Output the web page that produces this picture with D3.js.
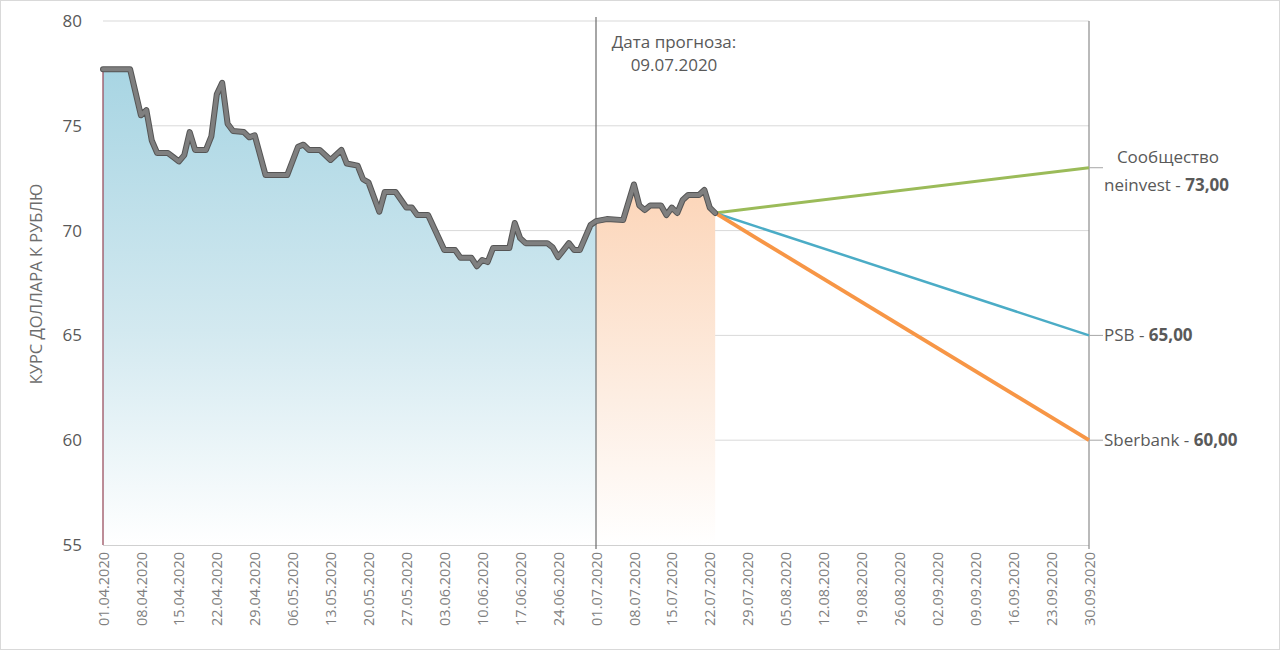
<!DOCTYPE html>
<html><head><meta charset="utf-8">
<script src="https://cdn.jsdelivr.net/npm/d3@7"></script>
<style>
html,body{margin:0;padding:0;background:#fff;}
svg text{font-family:"Open Sans","Noto Sans",sans-serif;}
</style></head>
<body>
<svg id="chart" width="1280" height="650"></svg>
<script>
// ---- data ----
const dates = ["01.04.2020","06.04.2020","07.04.2020","08.04.2020","09.04.2020","10.04.2020","11.04.2020","13.04.2020","14.04.2020","15.04.2020","16.04.2020","17.04.2020","18.04.2020","20.04.2020","21.04.2020","22.04.2020","23.04.2020","24.04.2020","25.04.2020","27.04.2020","28.04.2020","29.04.2020","01.05.2020","05.05.2020","07.05.2020","08.05.2020","09.05.2020","11.05.2020","13.05.2020","15.05.2020","16.05.2020","18.05.2020","19.05.2020","20.05.2020","22.05.2020","23.05.2020","25.05.2020","27.05.2020","28.05.2020","29.05.2020","31.05.2020","03.06.2020","05.06.2020","06.06.2020","08.06.2020","09.06.2020","10.06.2020","11.06.2020","12.06.2020","15.06.2020","16.06.2020","17.06.2020","18.06.2020","22.06.2020","23.06.2020","24.06.2020","26.06.2020","27.06.2020","28.06.2020","30.06.2020","01.07.2020","03.07.2020","06.07.2020","08.07.2020","09.07.2020","10.07.2020","11.07.2020","13.07.2020","14.07.2020","15.07.2020","16.07.2020","17.07.2020","18.07.2020","20.07.2020","21.07.2020","22.07.2020","23.07.2020"];
const rates = [77.7,77.7,76.6,75.5,75.75,74.3,73.7,73.7,73.5,73.3,73.6,74.7,73.85,73.85,74.5,76.5,77.05,75.1,74.75,74.7,74.45,74.55,72.65,72.65,74.0,74.1,73.85,73.85,73.37,73.85,73.2,73.1,72.45,72.3,70.9,71.84,71.84,71.1,71.1,70.74,70.74,69.07,69.07,68.7,68.7,68.3,68.6,68.5,69.17,69.17,70.36,69.64,69.4,69.4,69.2,68.74,69.4,69.07,69.07,70.27,70.45,70.55,70.5,72.2,71.2,70.98,71.2,71.2,70.74,71.1,70.84,71.46,71.7,71.7,71.94,71.1,70.84];
const splitDate = "01.07.2020";          // boundary between history and current month
const forecastMadeLabel = ["Дата прогноза:", "09.07.2020"];
const forecastEndDate = "30.09.2020";
const forecastNames = ["Сообщество neinvest", "PSB", "Sberbank"];
const forecastValues = [73.00, 65.00, 60.00];
const forecastColors = ["#9bbb59", "#4bacc6", "#f79646"];
const yTicks = [55, 60, 65, 70, 75, 80];
const xTickStart = "01.04.2020";
const yTitle = "КУРС ДОЛЛАРА К РУБЛЮ";

// ---- setup ----
const parse = d3.utcParse("%d.%m.%Y");
const fmt = d3.utcFormat("%d.%m.%Y");
const data = dates.map((d,i)=>({date:parse(d), v:rates[i]}));
const svg = d3.select("#chart");
const L=103, R=1089, T=21, B=545;
const x = d3.scaleUtc().domain([parse(xTickStart), parse(forecastEndDate)]).range([L,R]);
const y = d3.scaleLinear().domain([55,80]).range([B,T]);
const weekly = d3.utcDay.every(1).range(parse(xTickStart), d3.utcDay.offset(parse(forecastEndDate),1))
  .filter((d,i)=>i%7===0);

// border
svg.append("rect").attr("x",0.5).attr("y",0.5).attr("width",1279).attr("height",649)
  .attr("fill","#fff").attr("stroke","#d9d9d9");

// gradients
const defs = svg.append("defs");
const split = parse(splitDate);
const hist = data.filter(d=>d.date<=split);
const cur = data.filter(d=>d.date>=split);
const g1 = defs.append("linearGradient").attr("id","gBlue").attr("gradientUnits","userSpaceOnUse")
  .attr("x1",0).attr("x2",0).attr("y1",y(d3.max(rates))).attr("y2",B);
g1.append("stop").attr("offset",0).attr("stop-color","#a8d5e3");
g1.append("stop").attr("offset",0.55).attr("stop-color","#d3e9f0");
g1.append("stop").attr("offset",1).attr("stop-color","#ffffff");
const g2 = defs.append("linearGradient").attr("id","gPeach").attr("gradientUnits","userSpaceOnUse")
  .attr("x1",0).attr("x2",0).attr("y1",y(d3.max(cur,d=>d.v))).attr("y2",B);
g2.append("stop").attr("offset",0).attr("stop-color","#fcd5b8");
g2.append("stop").attr("offset",0.6).attr("stop-color","#fdeee3");
g2.append("stop").attr("offset",1).attr("stop-color","#ffffff");

// gridlines
svg.append("g").selectAll("line").data(yTicks.filter(t=>t>55)).join("line")
  .attr("x1",L).attr("x2",R).attr("y1",d=>y(d)).attr("y2",d=>y(d))
  .attr("stroke","#d9d9d9").attr("stroke-width",1);

// areas
const area = d3.area().x(d=>x(d.date)).y0(B).y1(d=>y(d.v));
svg.append("path").datum(hist).attr("d",area).attr("fill","url(#gBlue)");
svg.append("path").datum(cur).attr("d",area).attr("fill","url(#gPeach)");

// left edge line
svg.append("line").attr("x1",x(data[0].date)).attr("x2",x(data[0].date))
  .attr("y1",y(data[0].v)).attr("y2",B).attr("stroke","#9a5060").attr("stroke-width",1.3);

// bottom axis line
svg.append("line").attr("x1",L).attr("x2",R).attr("y1",B+0.5).attr("y2",B+0.5)
  .attr("stroke","#d0d0d0").attr("stroke-width",1);

// vertical lines
svg.append("line").attr("x1",x(split)).attr("x2",x(split)).attr("y1",17).attr("y2",B+4)
  .attr("stroke","#6b6b6b").attr("stroke-width",1.2);
svg.append("line").attr("x1",R).attr("x2",R).attr("y1",T).attr("y2",B+4)
  .attr("stroke","#8c8c8c").attr("stroke-width",1.2);

// forecast lines
const last = data[data.length-1];
const fEnd = parse(forecastEndDate);
const lineGen = d3.line().x(d=>x(d.date)).y(d=>y(d.v));
const fWidths = [3,2.5,3.8];
forecastValues.forEach((v,i)=>{
  svg.append("path").datum([last,{date:fEnd,v:v}]).attr("d",lineGen)
    .attr("fill","none").attr("stroke",forecastColors[i]).attr("stroke-width",fWidths[i]);
});

// main line
svg.append("path").datum(data).attr("d",lineGen).attr("fill","none")
  .attr("stroke","#555").attr("stroke-width",6).attr("stroke-linejoin","round").attr("stroke-linecap","round");
svg.append("path").datum(data).attr("d",lineGen).attr("fill","none")
  .attr("stroke","#7f7f7f").attr("stroke-width",4).attr("stroke-linejoin","round").attr("stroke-linecap","round");

// y axis
const yAxis = d3.axisLeft(y).tickValues(yTicks).tickSize(0).tickPadding(0).tickFormat(d3.format("d"));
const ya = svg.append("g").attr("transform",`translate(${L-21},0)`).call(yAxis);
ya.select(".domain").remove();
ya.selectAll("line").remove();
ya.selectAll("text").attr("font-size",17).attr("fill","#595959").attr("font-family","Open Sans");

// x axis
const xAxis = d3.axisBottom(x).tickValues(weekly).tickSize(0).tickFormat(fmt);
const xa = svg.append("g").attr("transform",`translate(0,${B})`).call(xAxis);
xa.select(".domain").remove();
xa.selectAll("line").remove();
xa.selectAll("text").attr("font-size",14.5).attr("fill","#7f7f7f").attr("font-family","Open Sans")
  .attr("text-anchor","end").attr("transform","rotate(-90)").attr("x",-7).attr("y",0).attr("dy","0.35em");

// y title
svg.append("text").attr("transform","translate(36,284) rotate(-90)").attr("text-anchor","middle")
  .attr("dy","0.35em").attr("font-size",16.5).attr("fill","#6d6d6d").text(yTitle);

// forecast date annotation
const ann = svg.append("text").attr("text-anchor","middle").attr("font-size",17).attr("fill","#595959");
ann.append("tspan").attr("x",674).attr("y",48).text(forecastMadeLabel[0]);
ann.append("tspan").attr("x",674).attr("y",71).text(forecastMadeLabel[1]);

// right labels
const numFmt = v => v.toFixed(2).replace(".",",");
forecastValues.forEach((v,i)=>{
  const yy = y(v);
  svg.append("line").attr("x1",R).attr("x2",R+14).attr("y1",yy).attr("y2",yy)
    .attr("stroke","#a6a6a6").attr("stroke-width",1);
  const name = forecastNames[i];
  if (i===0){
    const parts = name.split(" ");
    const t = svg.append("text").attr("font-size",17).attr("fill","#595959");
    t.append("tspan").attr("x",1168).attr("y",yy-5).attr("text-anchor","middle").text(parts[0]);
    const t2 = svg.append("text").attr("font-size",17).attr("fill","#595959").attr("x",1104).attr("y",yy+23);
    t2.append("tspan").text(parts[1]+" - ");
    t2.append("tspan").attr("font-weight","bold").text(numFmt(v));
  } else {
    const t = svg.append("text").attr("font-size",17).attr("fill","#595959").attr("x",1104).attr("y",yy+6);
    t.append("tspan").text(name+" - ");
    t.append("tspan").attr("font-weight","bold").text(numFmt(v));
  }
});
</script>
</body></html>
